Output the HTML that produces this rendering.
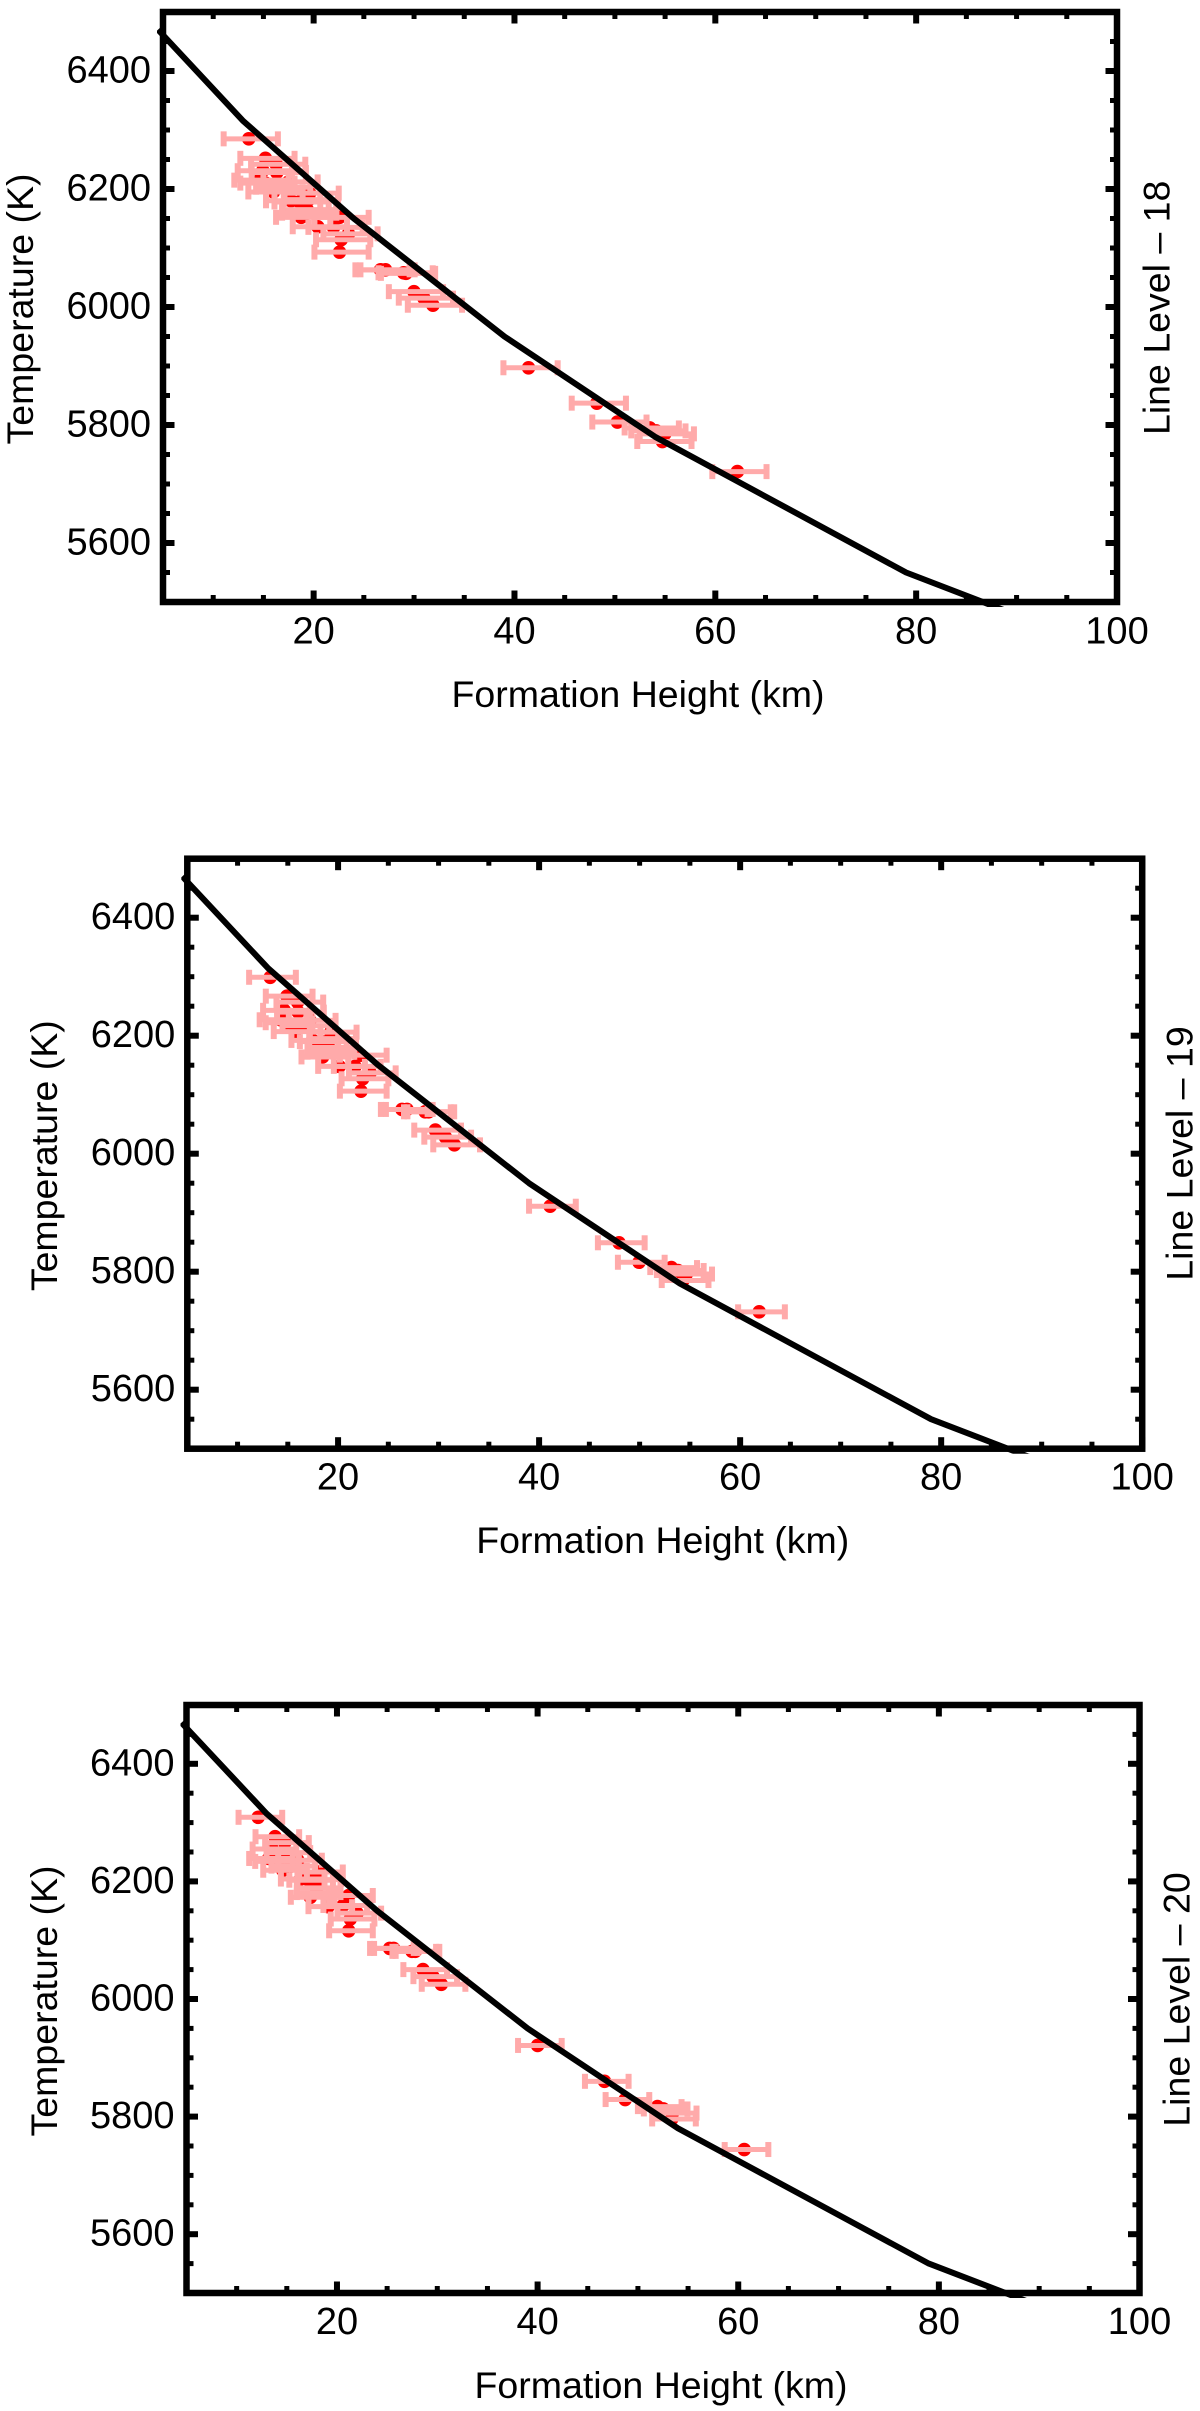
<!DOCTYPE html>
<html lang="en">
<head>
<meta charset="utf-8">
<title>Formation height vs temperature, line levels 18-20</title>
<style>
html,body{margin:0;padding:0;background:#fff;}
body{width:1200px;height:2411px;overflow:hidden;}
svg{display:block;}
text{font-family:"Liberation Sans",Arial,sans-serif;fill:#000;font-size:38px;}
.ttl{font-size:37.5px;}
</style>
</head>
<body>
<svg id="figure" xmlns="http://www.w3.org/2000/svg" width="1200" height="2411" viewBox="0 0 1200 2411">
<rect x="0" y="0" width="1200" height="2411" fill="#fff"/>
</svg>
<script>
// Model curve (same for every panel)
var modelHeights = [4.5, 13, 24, 39, 54, 79, 90];
var modelTemps = [6470, 6315, 6150, 5950, 5780, 5550, 5478];

// Tick values and labels
var xMajorTicks = [20, 40, 60, 80, 100];
var xMinorTicks = [10, 15, 25, 30, 35, 45, 50, 55, 65, 70, 75, 85, 90, 95];
var yMajorTicks = [5600, 5800, 6000, 6200, 6400];
var yMinorTicks = [5550, 5650, 5700, 5750, 5850, 5900, 5950, 6050, 6100, 6150, 6250, 6300, 6350, 6450];
var xTickLabels = ["20", "40", "60", "80", "100"];
var yTickLabels = ["5600", "5800", "6000", "6200", "6400"];

// Line level 18
var heights18 = [13.54,15.2,16.27,16.33,17.5,16.77,19.6,19.53,19.36,19.36,18.76,22.58,21.98,20.42,23.47,22.74,22.58,26.66,27.16,28.96,29.2,29.99,30.98,31.88,41.4,48.2,50.25,53.47,54.13,54.97,54.73,62.2,14.94,14.6,15.2,17.76,18.6,16.0];
var temps18 = [6285,6252,6242,6228,6212,6203,6193,6182,6165,6159,6152,6152,6135,6136,6124,6114,6093,6063,6063,6058,6057,6026,6015,6003,5897,5837,5805,5795,5790,5785,5772,5721,6231,6215,6210,6180,6178,6195];
var errLow18 = [2.5,2.5,2.5,2.5,2.5,2.5,2.5,2.5,2.5,2.5,2.5,2.5,2.5,2.5,2.5,2.5,2.5,2.5,2.5,2.5,2.5,2.5,2.5,2.5,2.5,2.5,2.5,2.5,2.5,2.5,2.5,2.5,2.5,2.5,2.5,2.5,2.5,2.5];
var errHigh18 = [2.9,2.9,2.9,2.9,2.9,2.9,2.9,2.9,2.9,2.9,2.9,2.9,2.9,2.9,2.9,2.9,2.9,2.9,2.9,2.9,2.9,2.9,2.9,2.9,2.9,2.9,2.9,2.9,2.9,2.9,2.9,2.9,2.9,2.9,2.9,2.9,2.9,2.9];

// Line level 19
var heights19 = [13.25,14.91,15.97,16.03,17.2,16.57,19.29,19.23,19.06,19.06,18.46,22.28,21.68,20.12,23.18,22.45,22.28,26.36,26.86,28.66,29,29.68,30.68,31.57,41.1,47.95,49.94,53.16,53.82,54.65,54.3,61.9,14.64,14.3,14.9,17.46,18.3,15.7];
var temps19 = [6299,6267,6257,6240,6226,6217,6206,6195,6180,6172,6164,6167,6148,6148,6137,6127,6106,6075,6075,6071,6071,6040,6028,6015,5911,5849,5816,5807,5802,5796,5785,5732,6243,6227,6222,6192,6190,6207];
var errLow19 = [2.1,2.1,2.1,2.1,2.1,2.1,2.1,2.1,2.1,2.1,2.1,2.1,2.1,2.1,2.1,2.1,2.1,2.1,2.1,2.1,2.1,2.1,2.1,2.1,2.1,2.1,2.1,2.1,2.1,2.1,2.1,2.1,2.1,2.1,2.1,2.1,2.1,2.1];
var errHigh19 = [2.55,2.55,2.55,2.55,2.55,2.55,2.55,2.55,2.55,2.55,2.55,2.55,2.55,2.55,2.55,2.55,2.55,2.55,2.55,2.55,2.55,2.55,2.55,2.55,2.55,2.55,2.55,2.55,2.55,2.55,2.55,2.55,2.55,2.55,2.55,2.55,2.55,2.55];

// Line level 20
var heights20 = [12.14,13.83,14.79,14.93,16.09,15.42,18.18,18.01,17.95,17.95,17.35,21.17,20.6,19.11,22,21.33,21.17,25.25,25.65,27.48,27.8,28.57,29.57,30.4,40,46.67,48.73,51.95,52.54,53.44,53.37,60.6,13.54,13.2,13.8,16.36,17.2,14.6];
var temps20 = [6309,6276,6266,6249,6236,6226,6216,6203,6189,6181,6173,6176,6159,6157,6146,6136,6116,6086,6086,6081,6081,6050,6038,6025,5921,5860,5829,5817,5813,5806,5796,5744,6255,6239,6234,6204,6202,6219];
var errLow20 = [1.95,1.95,1.95,1.95,1.95,1.95,1.95,1.95,1.95,1.95,1.95,1.95,1.95,1.95,1.95,1.95,1.95,1.95,1.95,1.95,1.95,1.95,1.95,1.95,1.95,1.95,1.95,1.95,1.95,1.95,1.95,1.95,1.95,1.95,1.95,1.95,1.95,1.95];
var errHigh20 = [2.4,2.4,2.4,2.4,2.4,2.4,2.4,2.4,2.4,2.4,2.4,2.4,2.4,2.4,2.4,2.4,2.4,2.4,2.4,2.4,2.4,2.4,2.4,2.4,2.4,2.4,2.4,2.4,2.4,2.4,2.4,2.4,2.4,2.4,2.4,2.4,2.4,2.4];

var NS = "http://www.w3.org/2000/svg";
var figure = document.getElementById("figure");

function mk(parent, tag, attrs, name) {
  var el = document.createElementNS(NS, tag);
  for (var k in attrs) { el.setAttribute(k, attrs[k]); }
  
  
  parent.appendChild(el);
  return el;
}

function drawPanel(id, level, box, heights, temps, errLow, errHigh) {
  var left = box.left, right = box.right, top = box.top, bottom = box.bottom;
  function sx(v) { return left + (v - 5) * (right - left) / 95; }
  function sy(v) { return bottom - (v - 5500) * (bottom - top) / 1000; }

  var g = mk(figure, "g", {}, "panel-line-level-" + level);

  // Clip for the curve: it overshoots the frame slightly
  var clip = mk(g, "clipPath", { id: "clip" + id }, "plot-clip-" + level);
  mk(clip, "rect", { x: left - 6, y: top - 6, width: right - left + 12, height: bottom - top + 11 }, "plot-clip-rect-" + level);

  // Points first, error bars painted over them, curve on top
  var pts = mk(g, "g", {}, "data-points-" + level);
  var i;
  for (i = 0; i < heights.length; i++) {
    mk(pts, "circle", { cx: sx(heights[i]), cy: sy(temps[i]), r: 6.8, fill: "#ff0000" }, "data-point");
  }
  var bars = mk(g, "g", { stroke: "#ffaaaa", fill: "none" }, "error-bars-" + level);
  for (i = 0; i < heights.length; i++) {
    var y = sy(temps[i]);
    var a = sx(heights[i] - errLow[i]);
    var b = sx(heights[i] + errHigh[i]);
    mk(bars, "line", { x1: a, x2: b, y1: y, y2: y, "stroke-width": 5 }, "error-bar");
    mk(bars, "line", { x1: a, x2: a, y1: y - 7.5, y2: y + 7.5, "stroke-width": 6 }, "error-cap-low");
    mk(bars, "line", { x1: b, x2: b, y1: y - 7.5, y2: y + 7.5, "stroke-width": 6 }, "error-cap-high");
  }

  var d = "";
  for (i = 0; i < modelHeights.length; i++) {
    d += (i ? "L" : "M") + sx(modelHeights[i]).toFixed(2) + " " + sy(modelTemps[i]).toFixed(2);
  }
  mk(g, "path", { d: d, fill: "none", stroke: "#000", "stroke-width": 6, "stroke-linejoin": "round", "clip-path": "url(#clip" + id + ")" }, "model-curve-" + level);

  // Frame
  mk(g, "rect", { x: left, y: top, width: right - left, height: bottom - top, fill: "none", stroke: "#000", "stroke-width": 6.5, "stroke-linejoin": "miter" }, "plot-frame-" + level);

  // Ticks
  var ticks = mk(g, "g", { stroke: "#000" }, "ticks-" + level);
  function xTick(v, len, w, nm) {
    var x = sx(v);
    mk(ticks, "line", { x1: x, x2: x, y1: top, y2: top + len, "stroke-width": w }, nm + "-top");
    mk(ticks, "line", { x1: x, x2: x, y1: bottom, y2: bottom - len, "stroke-width": w }, nm + "-bottom");
  }
  function yTick(v, len, w, nm) {
    var y = sy(v);
    mk(ticks, "line", { x1: left, x2: left + len, y1: y, y2: y, "stroke-width": w }, nm + "-left");
    mk(ticks, "line", { x1: right, x2: right - len, y1: y, y2: y, "stroke-width": w }, nm + "-right");
  }
  xMinorTicks.forEach(function (v) { xTick(v, 7, 5, "x-minor-tick"); });
  xMajorTicks.forEach(function (v) { xTick(v, 11.5, 6, "x-major-tick"); });
  yMinorTicks.forEach(function (v) { yTick(v, 7, 5, "y-minor-tick"); });
  yMajorTicks.forEach(function (v) { yTick(v, 11.5, 6, "y-major-tick"); });

  // Tick labels
  xMajorTicks.forEach(function (v, n) {
    var t = mk(g, "text", { x: sx(v), y: box.xLabelBase, "text-anchor": "middle" }, "x-tick-label");
    t.textContent = xTickLabels[n];
  });
  yMajorTicks.forEach(function (v, n) {
    var t = mk(g, "text", { x: left - 12, y: sy(v) + 11.5, "text-anchor": "end" }, "y-tick-label");
    t.textContent = yTickLabels[n];
  });

  // Axis titles
  var xt = mk(g, "text", { x: (left + right) / 2 - 2, y: box.xTitleBase, "text-anchor": "middle", "class": "ttl" }, "x-axis-title");
  xt.textContent = "Formation Height (km)";
  var yt = mk(g, "text", { transform: "translate(" + box.yTitleX + " " + ((top + bottom) / 2 + 2) + ") rotate(-90)", "text-anchor": "middle", "class": "ttl" }, "y-axis-title");
  yt.textContent = "Temperature (K)";
  var rt = mk(g, "text", { transform: "translate(" + box.rTitleX + " " + box.rTitleY + ") rotate(-90)", "text-anchor": "start", "class": "ttl" }, "line-level-label");
  rt.textContent = "Line Level \u2013 " + level;
}

drawPanel("a", 18, { left: 163, right: 1117, top: 12, bottom: 602, xLabelBase: 643.5, xTitleBase: 707, yTitleX: 33, rTitleX: 1169.5, rTitleY: 435 }, heights18, temps18, errLow18, errHigh18);
drawPanel("b", 19, { left: 187.3, right: 1142.2, top: 858.7, bottom: 1448.7, xLabelBase: 1489.5, xTitleBase: 1553, yTitleX: 57, rTitleX: 1192.7, rTitleY: 1280.7 }, heights19, temps19, errLow19, errHigh19);
drawPanel("c", 20, { left: 186.5, right: 1139.5, top: 1705, bottom: 2293, xLabelBase: 2334, xTitleBase: 2398, yTitleX: 57, rTitleX: 1189.3, rTitleY: 2126.7 }, heights20, temps20, errLow20, errHigh20);
</script>
</body>
</html>
